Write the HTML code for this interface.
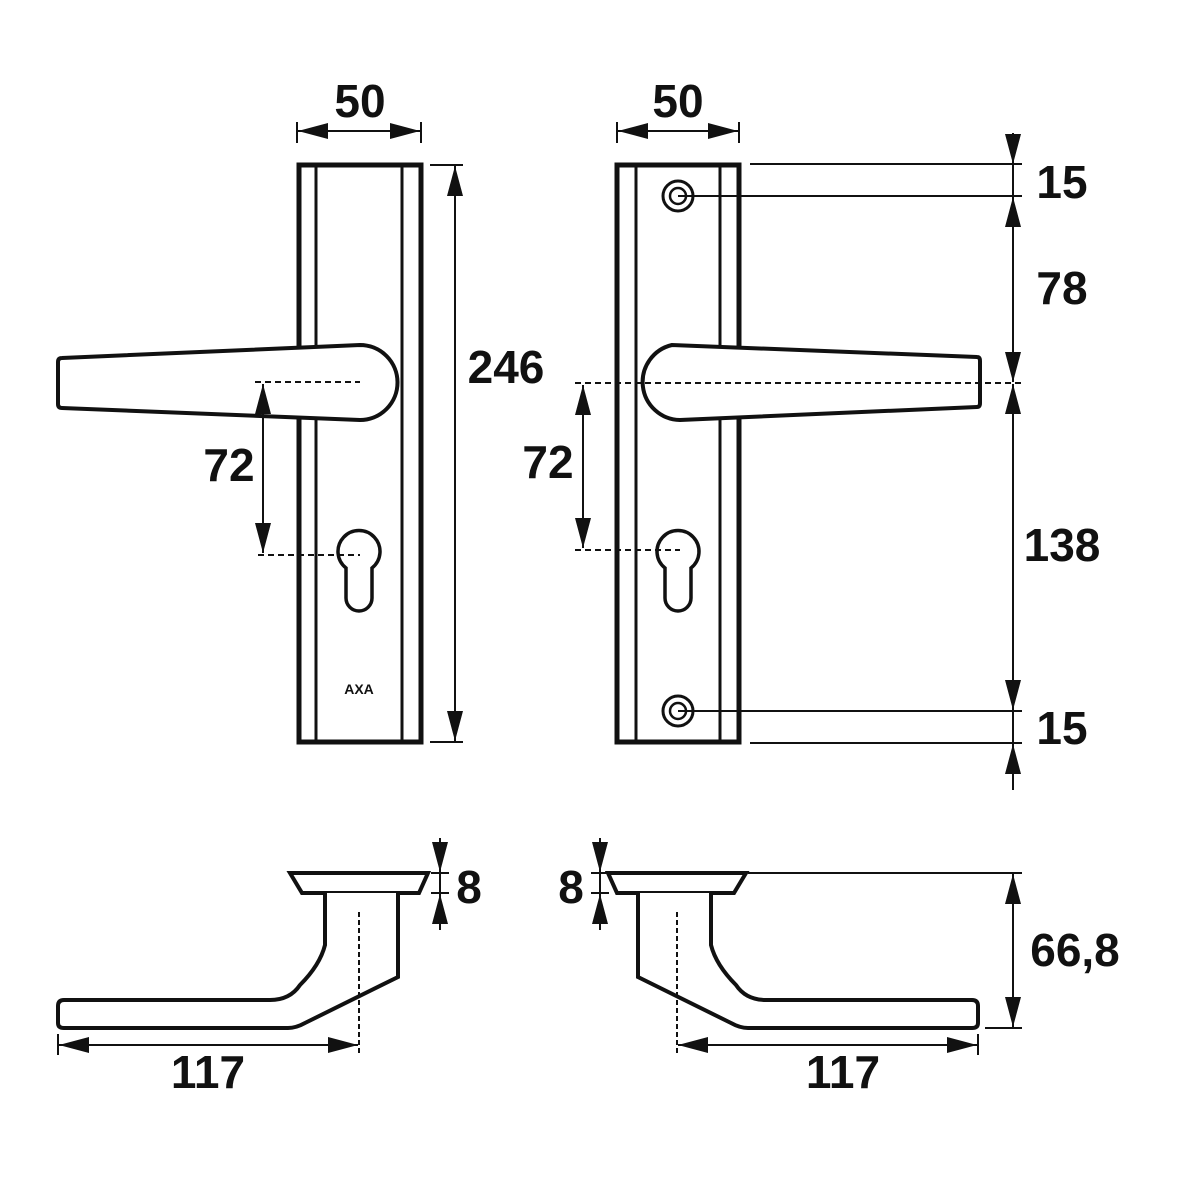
<!DOCTYPE html>
<html><head><meta charset="utf-8"><style>html,body{margin:0;padding:0;background:#fff}svg{display:block}text{font-family:"Liberation Sans",Arial,sans-serif;font-weight:bold;fill:#111}</style></head>
<body>
<svg width="1181" height="1181" viewBox="0 0 1181 1181" xmlns="http://www.w3.org/2000/svg">
<defs>
<marker id="a" viewBox="0 0 30 16" refX="30" refY="8" markerWidth="30" markerHeight="16" markerUnits="userSpaceOnUse" orient="auto-start-reverse"><path d="M0,0 L30,8 L0,16 Z" fill="#111"/></marker>
</defs>
<g stroke="#111" fill="none">
<!-- LEFT PLATE -->
<rect x="299" y="165" width="122" height="577" stroke-width="5"/>
<line x1="316" y1="165" x2="316" y2="742" stroke-width="3"/>
<line x1="402" y1="165" x2="402" y2="742" stroke-width="3"/>
<!-- left handle -->
<path d="M62,358 L360,345 A37.5,37.5 0 0 1 360,420 L62,408 Q58,408 58,404 L58,362 Q58,358 62,358 Z" fill="#fff" stroke-width="4"/>
<!-- keyhole left -->
<path d="M346,568 A21,21 0 1 1 372,568 L372,598 A13,13 0 0 1 346,598 Z" stroke-width="3.5"/>
<line x1="255" y1="382" x2="360" y2="382" stroke-width="2" stroke-dasharray="6,4"/>
<line x1="258" y1="555" x2="360" y2="555" stroke-width="2" stroke-dasharray="6,4"/>
<line x1="263" y1="384" x2="263" y2="553" stroke-width="2" marker-start="url(#a)" marker-end="url(#a)"/>
<!-- 50 left -->
<line x1="297" y1="122" x2="297" y2="143" stroke-width="2"/>
<line x1="421" y1="122" x2="421" y2="143" stroke-width="2"/>
<line x1="298" y1="131" x2="420" y2="131" stroke-width="2" marker-start="url(#a)" marker-end="url(#a)"/>
<!-- 246 -->
<line x1="430" y1="165" x2="463" y2="165" stroke-width="2"/>
<line x1="430" y1="742" x2="463" y2="742" stroke-width="2"/>
<line x1="455" y1="166" x2="455" y2="741" stroke-width="2" marker-start="url(#a)" marker-end="url(#a)"/>

<!-- RIGHT PLATE -->
<rect x="617" y="165" width="122" height="577" stroke-width="5"/>
<line x1="636" y1="165" x2="636" y2="742" stroke-width="3"/>
<line x1="720" y1="165" x2="720" y2="742" stroke-width="3"/>
<path d="M977,357 L672,345 A38,38 0 0 0 680,420 L977,407 Q980,407 980,403 L980,361 Q980,357 977,357 Z" fill="#fff" stroke-width="4"/>
<path d="M665,568 A21,21 0 1 1 691,568 L691,598 A13,13 0 0 1 665,598 Z" stroke-width="3.5"/>
<circle cx="678" cy="196" r="15" stroke-width="3"/><circle cx="678" cy="196" r="8" stroke-width="2.5"/>
<circle cx="678" cy="711" r="15" stroke-width="3"/><circle cx="678" cy="711" r="8" stroke-width="2.5"/>
<line x1="575" y1="383" x2="1022" y2="383" stroke-width="2" stroke-dasharray="6,4"/>
<line x1="575" y1="550" x2="680" y2="550" stroke-width="2" stroke-dasharray="6,4"/>
<line x1="583" y1="385" x2="583" y2="548" stroke-width="2" marker-start="url(#a)" marker-end="url(#a)"/>
<!-- 50 right -->
<line x1="617" y1="122" x2="617" y2="143" stroke-width="2"/>
<line x1="739" y1="122" x2="739" y2="143" stroke-width="2"/>
<line x1="618" y1="131" x2="738" y2="131" stroke-width="2" marker-start="url(#a)" marker-end="url(#a)"/>
<!-- right vertical dims -->
<line x1="750" y1="164" x2="1022" y2="164" stroke-width="2"/>
<line x1="678" y1="196" x2="1022" y2="196" stroke-width="2"/>
<line x1="678" y1="711" x2="1022" y2="711" stroke-width="2"/>
<line x1="750" y1="743" x2="1022" y2="743" stroke-width="2"/>
<line x1="1013" y1="133" x2="1013" y2="164" stroke-width="2" marker-end="url(#a)"/>
<line x1="1013" y1="164" x2="1013" y2="196" stroke-width="2"/>
<line x1="1013" y1="197" x2="1013" y2="382" stroke-width="2" marker-start="url(#a)" marker-end="url(#a)"/>
<line x1="1013" y1="384" x2="1013" y2="710" stroke-width="2" marker-start="url(#a)" marker-end="url(#a)"/>
<line x1="1013" y1="711" x2="1013" y2="743" stroke-width="2"/>
<line x1="1013" y1="790" x2="1013" y2="744" stroke-width="2" marker-end="url(#a)"/>

<!-- SIDE VIEW LEFT -->
<g id="sv">
<path d="M290,873 L428,873 L419,893 L302,893 Z" stroke-width="4"/>
<path d="M325,893 L325,945 Q320,965 300,985 Q290,1000 270,1000 L64,1000 Q58,1000 58,1006 L58,1023 Q58,1028 64,1028 L288,1028 Q296,1028 305,1023 L398,977 L398,893" fill="#fff" stroke-width="4"/>
<line x1="359" y1="912" x2="359" y2="1055" stroke-width="2" stroke-dasharray="5,3"/>
<line x1="58" y1="1034" x2="58" y2="1055" stroke-width="2"/>
<line x1="59" y1="1045" x2="358" y2="1045" stroke-width="2" marker-start="url(#a)" marker-end="url(#a)"/>
</g>
<!-- 8 left -->
<line x1="440" y1="838" x2="440" y2="872" stroke-width="2" marker-end="url(#a)"/>
<line x1="440" y1="930" x2="440" y2="894" stroke-width="2" marker-end="url(#a)"/>
<line x1="440" y1="873" x2="440" y2="893" stroke-width="2"/>
<line x1="431" y1="873" x2="449" y2="873" stroke-width="2"/>
<line x1="431" y1="893" x2="449" y2="893" stroke-width="2"/>

<!-- SIDE VIEW RIGHT (mirror) -->
<g transform="translate(1036,0) scale(-1,1)">
<path d="M290,873 L428,873 L419,893 L302,893 Z" stroke-width="4"/>
<path d="M325,893 L325,945 Q320,965 300,985 Q290,1000 270,1000 L64,1000 Q58,1000 58,1006 L58,1023 Q58,1028 64,1028 L288,1028 Q296,1028 305,1023 L398,977 L398,893" fill="#fff" stroke-width="4"/>
<line x1="359" y1="912" x2="359" y2="1055" stroke-width="2" stroke-dasharray="5,3"/>
<line x1="58" y1="1034" x2="58" y2="1055" stroke-width="2"/>
<line x1="59" y1="1045" x2="358" y2="1045" stroke-width="2" marker-start="url(#a)" marker-end="url(#a)"/>
</g>
<line x1="600" y1="838" x2="600" y2="872" stroke-width="2" marker-end="url(#a)"/>
<line x1="600" y1="930" x2="600" y2="894" stroke-width="2" marker-end="url(#a)"/>
<line x1="600" y1="873" x2="600" y2="893" stroke-width="2"/>
<line x1="591" y1="873" x2="609" y2="873" stroke-width="2"/>
<line x1="591" y1="893" x2="609" y2="893" stroke-width="2"/>
<!-- 66,8 -->
<line x1="748" y1="873" x2="1022" y2="873" stroke-width="2"/>
<line x1="985" y1="1028" x2="1022" y2="1028" stroke-width="2"/>
<line x1="1013" y1="874" x2="1013" y2="1027" stroke-width="2" marker-start="url(#a)" marker-end="url(#a)"/>
</g>

<g font-size="46" text-anchor="middle">
<text x="360" y="117">50</text>
<text x="678" y="117">50</text>
<text x="506" y="383">246</text>
<text x="229" y="481">72</text>
<text x="548" y="478">72</text>
<text x="1062" y="198">15</text>
<text x="1062" y="304">78</text>
<text x="1062" y="561">138</text>
<text x="1062" y="744">15</text>
<text x="208" y="1088">117</text>
<text x="843" y="1088">117</text>
<text x="469" y="903">8</text>
<text x="571" y="903">8</text>
<text x="1075" y="966">66,8</text>
</g>
<text x="359" y="694" font-size="14" text-anchor="middle">AXA</text>
</svg>
</body></html>
